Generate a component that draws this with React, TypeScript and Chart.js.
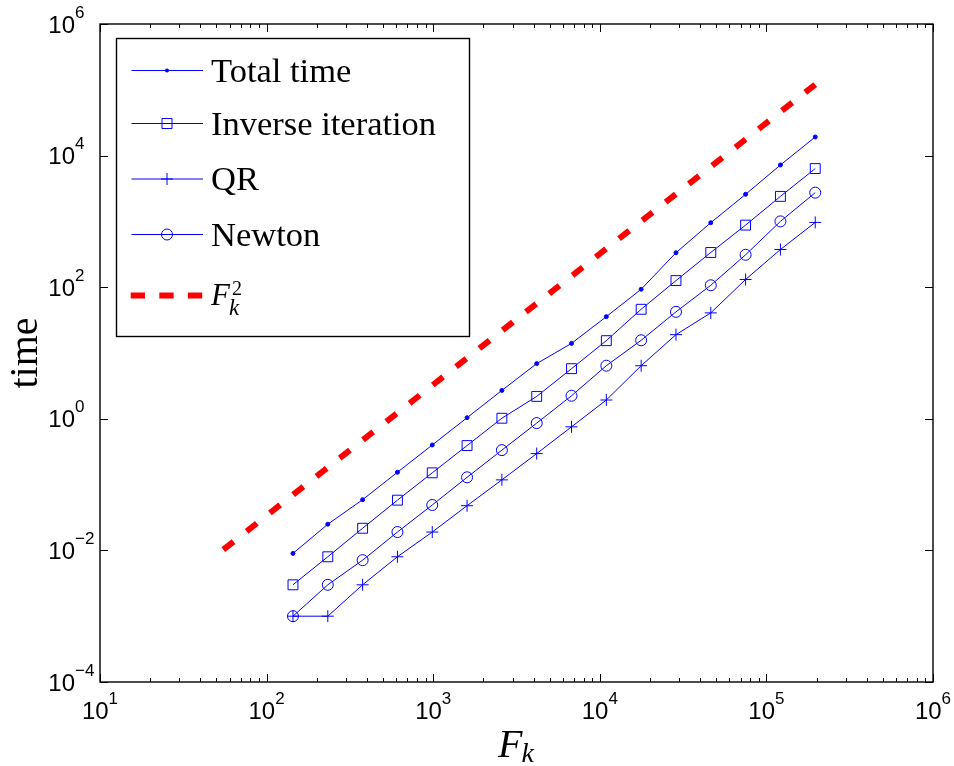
import React, { useEffect, useRef } from "react";
import { Chart, registerables } from "chart.js";

Chart.register(...registerables);

// Fibonacci sizes F_k on the x axis
const fk = [144, 233, 377, 610, 987, 1597, 2584, 4181, 6765, 10946, 17711, 28657, 46368, 75025, 121393, 196418];

const totalTime = [0.009, 0.025, 0.059, 0.154, 0.4, 1.04, 2.7, 6.9, 14.0, 35.7, 93, 334, 955, 2580, 7200, 19200];
const inverseIteration = [0.003, 0.008, 0.0217, 0.058, 0.151, 0.392, 1.02, 2.19, 5.78, 15.4, 46.2, 126, 337, 878, 2400, 6350];
const qr = [0.001, 0.001, 0.003, 0.008, 0.019, 0.0478, 0.118, 0.296, 0.755, 1.93, 6.41, 19.0, 40.7, 131, 374, 965];
const newton = [0.001, 0.003, 0.0071, 0.019, 0.049, 0.129, 0.334, 0.86, 2.24, 6.41, 15.6, 42.2, 107, 311, 1000, 2735];

// reference F_k^2 line (scaled)
const refX = [55, 196418];
const refY = [0.0103, 120000];

const xTickExponents = [1, 2, 3, 4, 5, 6];
const yTickExponents = [-4, -2, 0, 2, 4, 6];
const legendLabels = ["Total time", "Inverse iteration", "QR", "Newton"];
const xTitle = "F";
const xTitleSub = "k";
const yTitle = "time";

const BLUE = "#0000ff";
const RED = "#ff0000";
const SANS = '"Liberation Sans", Arial, sans-serif';
const SERIF = '"Liberation Serif", "Times New Roman", serif';

const pts = (xs: number[], ys: number[]) => xs.map((x, i) => ({ x, y: ys[i] }));

const supText = (e: number) => (e < 0 ? "\u2212" + Math.abs(e) : String(e));

function drawMarker(ctx: CanvasRenderingContext2D, kind: string, x: number, y: number) {
  ctx.save();
  ctx.strokeStyle = BLUE;
  ctx.fillStyle = BLUE;
  ctx.lineWidth = 1;
  ctx.beginPath();
  if (kind === "dot") {
    ctx.arc(x, y, 2, 0, Math.PI * 2);
    ctx.fill();
  } else if (kind === "rect") {
    ctx.rect(x - 5, y - 5, 10, 10);
    ctx.stroke();
  } else if (kind === "cross") {
    ctx.moveTo(x - 6, y);
    ctx.lineTo(x + 6, y);
    ctx.moveTo(x, y - 6);
    ctx.lineTo(x, y + 6);
    ctx.stroke();
  } else if (kind === "circle") {
    ctx.arc(x, y, 5.5, 0, Math.PI * 2);
    ctx.stroke();
  }
  ctx.restore();
}

const axesPlugin = {
  id: "matlabAxes",
  afterDraw(chart: any) {
    const { ctx, chartArea: a, scales } = chart;
    const xs = scales.x;
    const ys = scales.y;
    ctx.save();

    // tick marks
    ctx.strokeStyle = "#000";
    ctx.lineWidth = 1;
    ctx.beginPath();
    xTickExponents.forEach((e, i) => {
      const px = Math.round(xs.getPixelForValue(Math.pow(10, e))) + 0.5;
      ctx.moveTo(px, a.bottom);
      ctx.lineTo(px, a.bottom - 8);
      ctx.moveTo(px, a.top);
      ctx.lineTo(px, a.top + 8);
      if (i < xTickExponents.length - 1) {
        for (let m = 2; m <= 9; m++) {
          const mx = Math.round(xs.getPixelForValue(m * Math.pow(10, e))) + 0.5;
          ctx.moveTo(mx, a.bottom);
          ctx.lineTo(mx, a.bottom - 4);
          ctx.moveTo(mx, a.top);
          ctx.lineTo(mx, a.top + 4);
        }
      }
    });
    yTickExponents.forEach((e) => {
      const py = Math.round(ys.getPixelForValue(Math.pow(10, e))) + 0.5;
      ctx.moveTo(a.left, py);
      ctx.lineTo(a.left + 8, py);
      ctx.moveTo(a.right, py);
      ctx.lineTo(a.right - 8, py);
    });
    ctx.stroke();

    // box
    ctx.lineWidth = 1.4;
    ctx.strokeRect(a.left, a.top, a.right - a.left, a.bottom - a.top);

    // tick labels
    ctx.fillStyle = "#000";
    ctx.textBaseline = "alphabetic";
    const baseFont = "24px " + SANS;
    const expFont = "17px " + SANS;
    xTickExponents.forEach((e) => {
      const px = xs.getPixelForValue(Math.pow(10, e));
      ctx.font = baseFont;
      const wb = ctx.measureText("10").width;
      ctx.font = expFont;
      const we = ctx.measureText(supText(e)).width;
      const x0 = px - (wb + we) / 2;
      ctx.font = baseFont;
      ctx.textAlign = "left";
      ctx.fillText("10", x0, a.bottom + 36.5);
      ctx.font = expFont;
      ctx.fillText(supText(e), x0 + wb, a.bottom + 21.5);
    });
    yTickExponents.forEach((e) => {
      const py = ys.getPixelForValue(Math.pow(10, e));
      ctx.font = baseFont;
      ctx.textAlign = "right";
      ctx.fillText("10", 75, py + 8.6);
      ctx.font = expFont;
      ctx.textAlign = "left";
      ctx.fillText(supText(e), 75, py - 6.5);
    });

    // axis titles
    const cx = (a.left + a.right) / 2;
    ctx.textAlign = "left";
    ctx.font = "italic 40px " + SERIF;
    const wF = ctx.measureText(xTitle).width;
    ctx.font = "italic 28px " + SERIF;
    const wk = ctx.measureText(xTitleSub).width;
    const fx = cx - (wF + wk) / 2;
    ctx.font = "italic 40px " + SERIF;
    ctx.fillText(xTitle, fx, 757);
    ctx.font = "italic 28px " + SERIF;
    ctx.fillText(xTitleSub, fx + wF - 1, 762);

    ctx.save();
    ctx.translate(37, (a.top + a.bottom) / 2);
    ctx.rotate(-Math.PI / 2);
    ctx.font = "40px " + SERIF;
    ctx.textAlign = "center";
    ctx.fillText(yTitle, 0, 0);
    ctx.restore();

    // legend
    const lx = 116.5, ly = 38.5, lw = 353, lh = 298;
    ctx.fillStyle = "#fff";
    ctx.fillRect(lx, ly, lw, lh);
    ctx.strokeStyle = "#000";
    ctx.lineWidth = 1.4;
    ctx.strokeRect(lx, ly, lw, lh);

    const rows = [70.5, 123.5, 179, 234.5];
    const markers = ["dot", "rect", "cross", "circle"];
    legendLabels.forEach((lab, i) => {
      const y = rows[i];
      ctx.strokeStyle = BLUE;
      ctx.lineWidth = 1;
      ctx.beginPath();
      ctx.moveTo(131.5, y);
      ctx.lineTo(203, y);
      ctx.stroke();
      drawMarker(ctx, markers[i], 167, y);
      ctx.fillStyle = "#000";
      ctx.font = "34.5px " + SERIF;
      ctx.textAlign = "left";
      ctx.fillText(lab, 211, y + 11.3);
    });
    // F_k^2 entry
    const ry = 295.5;
    ctx.strokeStyle = RED;
    ctx.lineWidth = 6;
    ctx.lineCap = "butt";
    ctx.setLineDash([14.3, 14.3]);
    ctx.beginPath();
    ctx.moveTo(130.7, ry);
    ctx.lineTo(203, ry);
    ctx.stroke();
    ctx.setLineDash([]);
    ctx.fillStyle = "#000";
    ctx.font = "italic 31px " + SERIF;
    ctx.fillText(xTitle, 211, 305);
    const wF2 = ctx.measureText(xTitle).width;
    ctx.font = "20px " + SERIF;
    ctx.fillText("2", 211 + wF2 + 2, 295);
    ctx.font = "italic 23px " + SERIF;
    ctx.fillText(xTitleSub, 211 + wF2 - 1, 315);

    ctx.restore();
  },
};

export default function App() {
  const canvasRef = useRef<HTMLCanvasElement | null>(null);

  useEffect(() => {
    const canvas = canvasRef.current;
    if (!canvas) return;
    const line = (data: number[], style: string, radius: number, filled: boolean) => ({
      data: pts(fk, data),
      showLine: true,
      borderColor: BLUE,
      borderWidth: 1,
      pointStyle: style,
      pointRadius: radius,
      pointBorderColor: BLUE,
      pointBorderWidth: 1,
      pointBackgroundColor: filled ? BLUE : "rgba(0,0,0,0)",
      tension: 0,
    });
    const chart = new Chart(canvas, {
      type: "scatter",
      data: {
        datasets: [
          { label: legendLabels[0], ...line(totalTime, "circle", 2, true) },
          { label: legendLabels[1], ...line(inverseIteration, "rect", 7, false) },
          { label: legendLabels[2], ...line(qr, "cross", 6, false) },
          { label: legendLabels[3], ...line(newton, "circle", 5.5, false) },
          {
            label: "F_k^2",
            data: pts(refX, refY),
            showLine: true,
            borderColor: RED,
            borderWidth: 6,
            borderDash: [13, 16.6],
            borderCapStyle: "butt",
            pointRadius: 0,
            tension: 0,
          },
        ],
      },
      options: {
        responsive: false,
        animation: false,
        events: [],
        devicePixelRatio: 1,
        layout: { padding: { left: 100, right: 21, top: 24, bottom: 84 } },
        plugins: { legend: { display: false }, tooltip: { enabled: false } },
        scales: {
          x: { type: "logarithmic", min: 10, max: 1e6, display: false },
          y: { type: "logarithmic", min: 1e-4, max: 1e6, display: false },
        },
      },
      plugins: [axesPlugin],
    } as any);
    return () => chart.destroy();
  }, []);

  return (
    <div style={{ position: "absolute", left: 0, top: 0, width: 954, height: 766, background: "#fff" }}>
      <canvas ref={canvasRef} width={954} height={766} style={{ width: 954, height: 766, display: "block" }} />
    </div>
  );
}
